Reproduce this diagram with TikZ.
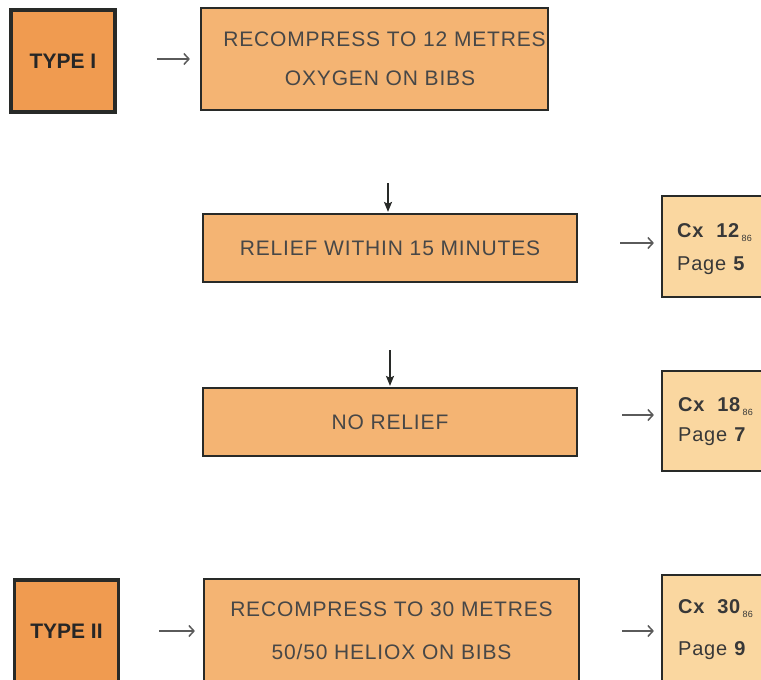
\documentclass[tikz,border=0pt]{standalone}
\usepackage{fontspec}
\setmainfont{Liberation Sans}
\newfontfamily\spaced[LetterSpace=4]{Liberation Sans}
\usetikzlibrary{arrows.meta}
\definecolor{typefill}{RGB}{240,155,80}
\definecolor{boxfill}{RGB}{244,180,115}
\definecolor{cxfill}{RGB}{250,215,160}
\definecolor{edge}{RGB}{40,42,40}
\definecolor{arrgray}{RGB}{90,90,90}
\newcommand{\subn}[1]{\raisebox{-4pt}{\fontsize{9}{9}\selectfont\,#1}}
\tikzset{
  typebox/.style={draw=edge, line width=3.5pt, fill=typefill, minimum width=104pt, minimum height=102pt, inner sep=0pt, font=\fontsize{21}{21}\selectfont\bfseries, text=black!85},
  mainbox/.style={draw=edge, line width=2.2pt, fill=boxfill, inner sep=0pt, font=\spaced\fontsize{21}{21}\selectfont, align=center, text=black!72},
  cxbox/.style={draw=edge, line width=2.2pt, fill=cxfill, minimum width=105pt, inner sep=0pt},
  cxtext/.style={anchor=west, align=left, inner sep=0pt, font=\spaced\fontsize{20}{20}\selectfont, text=black!78},
  harrow/.style={draw=arrgray, line width=2.6pt, -{Straight Barb[length=5pt,width=11pt,line width=1.5pt]}},
  darrow/.style={draw=edge, line width=2pt, -{Stealth[length=10pt,width=8pt,inset=2pt]}}
}
\begin{document}
\begin{tikzpicture}[x=1pt,y=-1pt]
\useasboundingbox (0,0) rectangle (761,680);
\clip (0,0) rectangle (761,680);
% TYPE I row
\node[typebox] (t1) at (63,61) {TYPE I};
\node[mainbox, minimum width=347pt, minimum height=102pt] (r12) at (374.5,59)
  {\hspace*{20pt}RECOMPRESS TO 12 METRES\\[18pt]\hspace*{11pt}OXYGEN ON BIBS};
\node[mainbox, minimum width=374pt, minimum height=68pt] (rel) at (390,248) {RELIEF WITHIN 15 MINUTES};
\node[mainbox, minimum width=374pt, minimum height=68pt] (nor) at (390,422) {NO RELIEF};
\node[cxbox, minimum height=101pt] (cx12) at (714.5,246.5) {};
\node[cxtext] (cx12t) at (677,249) {\textbf{Cx\ \ 12}\subn{86}\\[13pt]Page \textbf{5}};
\node[cxbox, minimum height=100pt] (cx18) at (714.5,421) {};
\node[cxtext] (cx18t) at (678,422) {\textbf{Cx\ \ 18}\subn{86}\\[10pt]Page \textbf{7}};
% TYPE II row
\node[typebox] (t2) at (66.5,631) {TYPE II};
\node[mainbox, minimum width=375pt, minimum height=104pt] (r30) at (391.5,631)
  {RECOMPRESS TO 30 METRES\\[22pt]50/50 HELIOX ON BIBS};
\node[cxbox, minimum height=112pt] (cx30) at (714.5,631) {};
\node[cxtext] (cx30t) at (678,630) {\textbf{Cx\ \ 30}\subn{86}\\[22pt]Page \textbf{9}};
% connectors
\draw[harrow, shorten <=40pt, shorten >=10pt] ([yshift=2pt]t1.east) -- ([yshift=2pt]t1.east -| r12.west);
\draw[darrow, shorten <=72pt, shorten >=1pt] ([xshift=-2pt]rel.north |- r12.south) -- ([xshift=-2pt]rel.north);
\draw[darrow, shorten <=67pt, shorten >=1pt] (nor.north |- rel.south) -- (nor.north);
\draw[harrow, shorten <=42pt, shorten >=7pt] ([yshift=5pt]rel.east) -- ([yshift=5pt]rel.east -| cx12.west);
\draw[harrow, shorten <=44pt, shorten >=7pt] ([yshift=7pt]nor.east) -- ([yshift=7pt]nor.east -| cx18.west);
\draw[harrow, shorten <=39pt, shorten >=8pt] (t2.east) -- (t2.east -| r30.west);
\draw[harrow, shorten <=42pt, shorten >=7pt] (r30.east) -- (r30.east -| cx30.west);
\end{tikzpicture}
\end{document}
